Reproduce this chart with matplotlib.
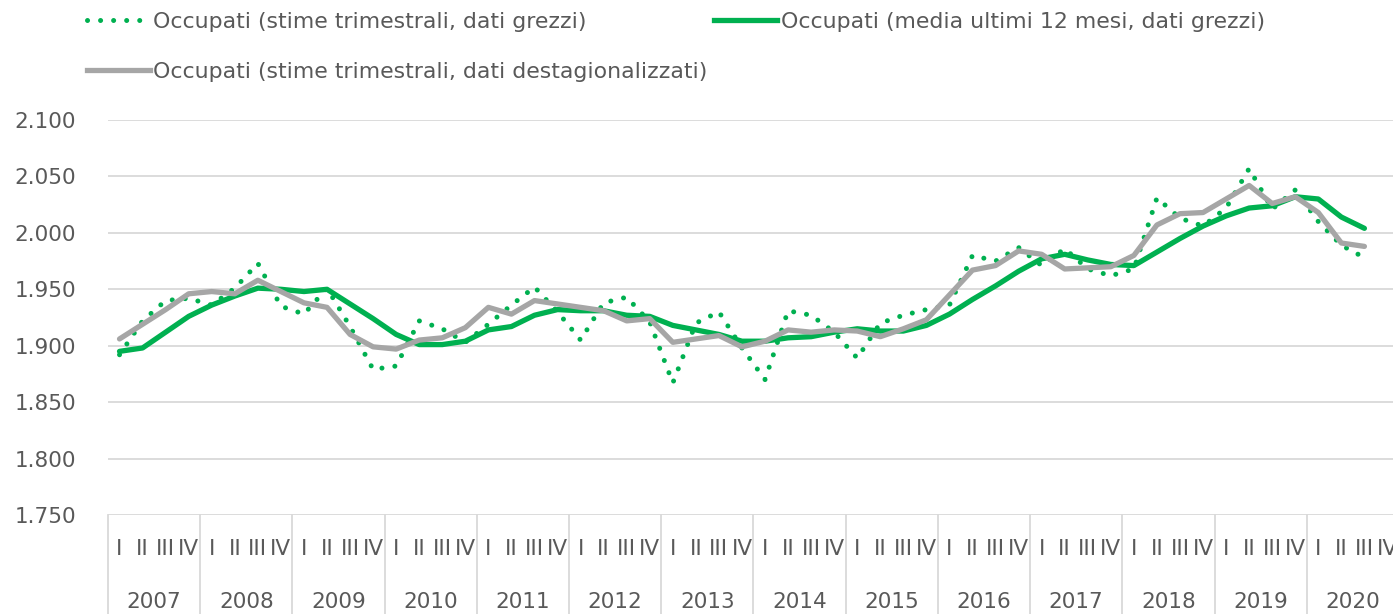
import matplotlib
matplotlib.use("Agg")
import matplotlib.pyplot as plt
from matplotlib.ticker import FuncFormatter, MultipleLocator
from matplotlib.lines import Line2D
import matplotlib.transforms as mtransforms

# ---------------- data ----------------
years = list(range(2007, 2021))
quarter_names = ["I", "II", "III", "IV"]

label_grezzi = "Occupati (stime trimestrali, dati grezzi)"
label_media = "Occupati (media ultimi 12 mesi, dati grezzi)"
label_destag = "Occupati (stime trimestrali, dati destagionalizzati)"

# quarterly values (thousands), 2007-Q1 ... 2020-Q3
grezzi = [1892, 1922, 1940, 1942, 1936, 1951, 1973, 1935, 1928, 1951,
          1917, 1879, 1882, 1922, 1915, 1903, 1919, 1936, 1952, 1930,
          1905, 1938, 1943, 1921, 1867, 1920, 1930, 1898, 1870, 1931,
          1927, 1912, 1889, 1920, 1927, 1932, 1936, 1980, 1975, 1987,
          1971, 1986, 1968, 1962, 1968, 2031, 2013, 2006, 2022, 2057,
          2021, 2038, 2010, 1989, 1978]

media12 = [1895, 1898, 1912, 1926, 1936, 1944, 1951, 1950, 1948, 1950,
           1937, 1924, 1910, 1901, 1901, 1904, 1914, 1917, 1927, 1932,
           1931, 1931, 1927, 1926, 1918, 1914, 1910, 1904, 1904, 1907,
           1908, 1912, 1915, 1913, 1913, 1918, 1928, 1941, 1953, 1966,
           1977, 1981, 1976, 1972, 1971, 1983, 1995, 2006, 2015, 2022,
           2024, 2032, 2030, 2014, 2004]

destag = [1906, 1919, 1932, 1946, 1948, 1946, 1958, 1948, 1938, 1934,
          1910, 1899, 1897, 1905, 1907, 1916, 1934, 1928, 1940, 1937,
          1934, 1931, 1922, 1924, 1903, 1906, 1909, 1899, 1904, 1914,
          1912, 1914, 1913, 1908, 1915, 1923, 1945, 1967, 1971, 1984,
          1981, 1968, 1969, 1970, 1980, 2007, 2017, 2018, 2030, 2042,
          2026, 2032, 2018, 1991, 1988]

# ---------------- style ----------------
GREEN = "#00B050"
GRAY = "#A6A6A6"
GRID = "#D9D9D9"
TEXT = "#595959"
FS = 15.5
FS_LEG = 15.8

W, H = 1393, 614
fig = plt.figure(figsize=(W / 100, H / 100), dpi=100)
ax_left, ax_right, ax_top, ax_bottom = 108, 1399, 120, 515
ax = fig.add_axes([ax_left / W, (H - ax_bottom) / H,
                   (ax_right - ax_left) / W, (ax_bottom - ax_top) / H])

n_q = len(years) * 4
x = list(range(len(grezzi)))

ax.plot(x, grezzi, color=GREEN, lw=3.6, linestyle=(0, (0.01, 2.6)),
        dash_capstyle="round", zorder=3)
ax.plot(x, media12, color=GREEN, lw=3.8, solid_joinstyle="round",
        solid_capstyle="round", zorder=4)
ax.plot(x, destag, color=GRAY, lw=3.8, solid_joinstyle="round",
        solid_capstyle="round", zorder=5)

ax.set_xlim(-0.5, n_q - 0.5)
ax.set_ylim(1750, 2100)
ax.yaxis.set_major_locator(MultipleLocator(50))
ax.yaxis.set_major_formatter(
    FuncFormatter(lambda v, p: f"{v:,.0f}".replace(",", ".")))
ax.grid(axis="y", color=GRID, lw=1.3)
ax.set_axisbelow(True)
for s in ax.spines.values():
    s.set_visible(False)

ax.tick_params(axis="y", length=0, pad=23, labelsize=FS, labelcolor=TEXT)
ax.set_xticks(range(n_q))
ax.set_xticklabels(quarter_names * len(years))
ax.tick_params(axis="x", length=0, pad=17, labelsize=FS, labelcolor=TEXT)

trans = mtransforms.blended_transform_factory(ax.transData, ax.transAxes)
span = ax_bottom - ax_top
for k, yr in enumerate(years):
    ax.text(4 * k + 1.5, -(602 - ax_bottom) / span, str(yr), transform=trans,
            ha="center", va="center", fontsize=FS, color=TEXT)
for k in range(len(years) + 1):
    ax.plot([4 * k - 0.5, 4 * k - 0.5], [0, -(H - ax_bottom + 5) / span],
            transform=trans, color=GRID, lw=1.3, clip_on=False)

# ---------------- legend ----------------
h_dot = Line2D([], [], color=GREEN, lw=3.6, linestyle=(0, (0.01, 2.6)),
               dash_capstyle="round")
h_gray = Line2D([], [], color=GRAY, lw=3.8)
h_green = Line2D([], [], color=GREEN, lw=3.8)
fig.legend([h_dot, h_gray, h_green], [label_grezzi, label_destag, label_media],
           ncol=2, loc="upper left", bbox_to_anchor=(87 / W, 1 - 12 / H),
           frameon=False, fontsize=FS_LEG, labelcolor=TEXT, handlelength=2.87,
           handletextpad=0.15, columnspacing=0.3, labelspacing=1.35,
           borderaxespad=0, borderpad=0)

fig.savefig("out.png", dpi=100)
